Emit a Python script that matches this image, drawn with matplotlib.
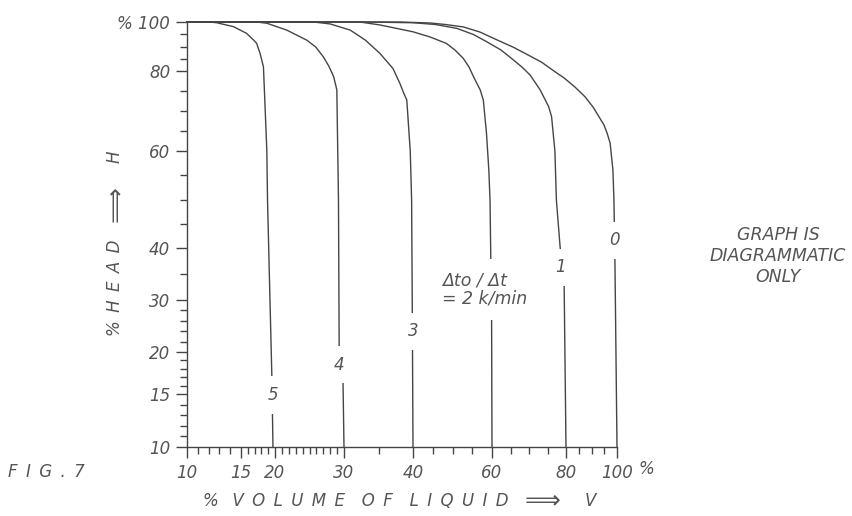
import numpy as np
import matplotlib
matplotlib.use("Agg")
import matplotlib.pyplot as plt
from matplotlib.ticker import FixedLocator, FixedFormatter

# ---------------- data ----------------
curve0_v = [10, 38.1, 44.3, 48.1, 52.7, 56.95, 61.35, 65.9, 70.3, 73.5, 76.5, 79.5, 83.5,
            87.4, 90.6, 94.9, 96.1, 97.3, 98.4, 98.8, 99.2, 100]
curve0_h = [100, 100, 99.6, 99.0, 98.0, 95.9, 92.7, 89.6, 86.1, 83.5, 80.25, 78.25, 76,
            73.6, 71, 66.5, 64.5, 62, 56.1, 49.9, 37.1, 10]

curve1_v = [10, 33, 40, 45.6, 51.1, 55.3, 58.6, 62.4, 65.8, 68.1, 70.3, 73, 75.3, 76.1,
            77, 77.4, 78.4, 79.5, 80]
curve1_h = [100, 100, 99.7, 99.0, 97.4, 94.9, 92, 88.6, 84.5, 81.6, 79, 75.3, 71.1, 68.6,
            60, 49.9, 40.3, 32.7, 10]

curve2_v = [10, 32.3, 35.2, 40, 44.3, 48.4, 50.6, 52.7, 54.2, 55.3, 57, 57.8, 58.6, 59.2,
            59.5, 59.7, 59.9, 60]
curve2_h = [100, 100, 98.8, 96, 93.9, 91.3, 88.6, 85.2, 81.6, 78.6, 75.3, 72.75, 64.5, 56,
            49.9, 37.7, 26.2, 10]

curve3_v = [10, 25.6, 28, 30.9, 33.1, 35.2, 37.1, 38.1, 38.6, 39.1, 39.6, 39.8, 39.9, 40]
curve3_h = [100, 100, 99.2, 96.7, 92.6, 87.2, 81, 76.9, 74.7, 72.75, 60, 49.9, 27.5, 10]

curve4_v = [10, 17.3, 18.8, 21.7, 24.6, 25.9, 27.0, 27.8, 28.5, 28.96, 29.2, 29.3, 29.86, 30]
curve4_h = [100, 100, 99.5, 96.7, 92.6, 89.8, 85.8, 82, 78.6, 75.3, 49.9, 21, 16.3, 10]

curve5_v = [10, 12.1, 12.75, 14.3, 15.8, 16.9, 17.3, 17.8, 18.3, 18.4, 18.8, 18.9, 19.55, 19.7]
curve5_h = [100, 100, 99.7, 98.1, 95.4, 92.5, 91.3, 87.2, 81.7, 76.9, 60, 49.9, 16.7, 10]

curve_labels = ["0", "1", "3", "4", "5"]
label_v = [99.2, 78.4, 40.0, 29.3, 19.7]
label_h = [41.6, 36.3, 24.0, 18.5, 14.9]

x_major = [10, 15, 20, 30, 40, 60, 80, 100]
x_major_labels = ["10", "15", "20", "30", "40", "60", "80", "100"]
x_minor = [11, 12, 13, 14, 16, 17, 18, 19, 21, 22, 23, 24, 25, 26, 27, 28, 29,
           35, 45, 50, 55, 65, 70, 75, 85, 90, 95]
y_major = [10, 15, 20, 30, 40, 60, 80, 100]
y_major_labels = ["10", "15", "20", "30", "40", "60", "80", "% 100"]
y_minor = [11, 12, 13, 14, 16, 17, 18, 19, 22, 24, 26, 28, 35, 45, 50, 55,
           65, 70, 75, 85, 90, 95]

# hand-drawn (diagrammatic) axis scales: relative position of each major value
x_scale_knots = [0, 54, 88, 157, 226, 305, 379, 430]
y_scale_knots = [0, 53, 95, 147, 199, 296, 376, 425]


def make_scale(vals, pos):
    v = np.array(vals, float)
    p = np.array(pos, float) / pos[-1]

    def conv(x, a, b):
        x = np.asarray(x, float)
        y = np.interp(x, a, b)
        y = np.where(x < a[0], b[0] + (x - a[0]) * (b[1] - b[0]) / (a[1] - a[0]), y)
        y = np.where(x > a[-1], b[-1] + (x - a[-1]) * (b[-1] - b[-2]) / (a[-1] - a[-2]), y)
        return y

    return (lambda x: conv(x, v, p)), (lambda y: conv(y, p, v))


TXT = "#555555"
LINE = "#454545"
EN = "\u2002"
plt.rcParams["font.family"] = ["DejaVu Sans"]
plt.rcParams["font.style"] = "italic"

fig = plt.figure(figsize=(8.52, 5.16), dpi=100)
ax = fig.add_axes([187 / 852, 1 - 447 / 516, 430 / 852, 425 / 516])

ax.set_xscale("function", functions=make_scale(x_major, x_scale_knots))
ax.set_yscale("function", functions=make_scale(y_major, y_scale_knots))

for v, h in [(curve0_v, curve0_h), (curve1_v, curve1_h), (curve2_v, curve2_h),
             (curve3_v, curve3_h), (curve4_v, curve4_h), (curve5_v, curve5_h)]:
    ax.plot(v, h, color=LINE, lw=1.0, solid_joinstyle="round", clip_on=False)

ax.set_xlim(10, 100)
ax.set_ylim(10, 100)

for s in ["top", "right"]:
    ax.spines[s].set_visible(False)
for s in ["left", "bottom"]:
    ax.spines[s].set_color(LINE)
    ax.spines[s].set_linewidth(1.0)

ax.xaxis.set_major_locator(FixedLocator(x_major))
ax.xaxis.set_major_formatter(FixedFormatter(x_major_labels))
ax.xaxis.set_minor_locator(FixedLocator(x_minor))
ax.yaxis.set_major_locator(FixedLocator(y_major))
ax.yaxis.set_major_formatter(FixedFormatter(y_major_labels))
ax.yaxis.set_minor_locator(FixedLocator(y_minor))
ax.xaxis.set_minor_formatter(FixedFormatter([""] * len(x_minor)))
ax.yaxis.set_minor_formatter(FixedFormatter([""] * len(y_minor)))

ax.tick_params(which="major", direction="out", length=8, width=1.0, color=LINE,
               labelsize=12, labelcolor=TXT, pad=4)
ax.tick_params(which="minor", direction="out", length=5, width=1.0, color=LINE)
for lab in ax.get_xticklabels() + ax.get_yticklabels():
    lab.set_fontstyle("italic")

# "%" after the last x tick label
ax.annotate("%", xy=(1.0, 0.0), xycoords="axes fraction", xytext=(21, -16),
            textcoords="offset points", ha="center", va="center",
            fontsize=12, color=TXT, style="italic")

# curve labels with white boxes breaking the lines
for t, v, h in zip(curve_labels, label_v, label_h):
    ax.text(v, h, t, ha="center", va="center", fontsize=12, color=TXT, style="italic",
            bbox=dict(fc="white", ec="none", pad=7), zorder=3)

ax.text(47.3, 32.1, "\u0394to / \u0394t\n= 2 k/min", ha="left", va="center",
        fontsize=12.5, color=TXT, style="italic", linespacing=1.0,
        bbox=dict(fc="white", ec="none", pad=9), zorder=3)

# y axis title: "% H E A D  ==>  H"
fig.text(115 / 852, 1 - 288 / 516, EN.join("%HEAD"), rotation=90,
         ha="center", va="center", fontsize=12, color=TXT, style="italic")
fig.text(115 / 852, 1 - 204 / 516, "\u27f9", rotation=90,
         ha="center", va="center", fontsize=18, color=TXT)
fig.text(115 / 852, 1 - 157 / 516, "H", rotation=90,
         ha="center", va="center", fontsize=12, color=TXT, style="italic")

# x axis title: "% V O L U M E  O F  L I Q U I D  ==>  V"
xtitle = "%" + EN + " " + EN.join("VOLUME") + EN * 2 + EN.join("OF") + EN * 2 + EN.join("LIQUID")
fig.text(203 / 852, 1 - 501 / 516, xtitle, ha="left", va="center",
         fontsize=12, color=TXT, style="italic")
fig.text(543 / 852, 1 - 500 / 516, "\u27f9", ha="center", va="center",
         fontsize=18, color=TXT)
fig.text(590 / 852, 1 - 501 / 516, "V", ha="center", va="center",
         fontsize=12, color=TXT, style="italic")

fig.text(8 / 852, 1 - 472 / 516, EN.join("FIG.7"), ha="left", va="center",
         fontsize=12, color=TXT, style="italic")
fig.text(778 / 852, 1 - 256 / 516, "GRAPH IS\nDIAGRAMMATIC\nONLY", ha="center",
         va="center", fontsize=12.5, color=TXT, style="italic", linespacing=1.25)

fig.savefig("out.png", dpi=100, facecolor="white")
